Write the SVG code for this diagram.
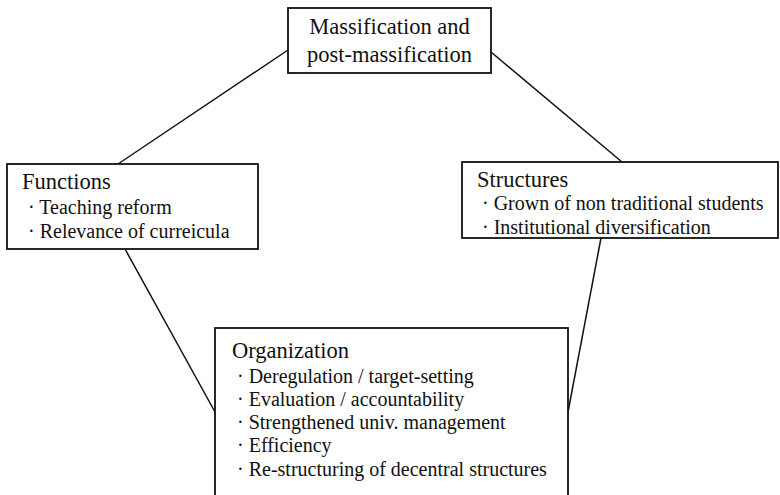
<svg xmlns="http://www.w3.org/2000/svg" width="780" height="495" viewBox="0 0 780 495">
<style>
.box{fill:#fff;stroke:#111;stroke-width:1.8}
.ln{stroke:#111;stroke-width:1.5;fill:none}
.t{font-family:"Liberation Serif","DejaVu Serif",serif;fill:#111}
.h{font-size:22.5px}
.b{font-size:20px}
</style>
<rect width="780" height="495" fill="#fff"/>
<g id="connectors">
<line class="ln" x1="288" y1="50" x2="118" y2="164"/>
<line class="ln" x1="491" y1="52" x2="622" y2="162"/>
<line class="ln" x1="125" y1="249" x2="215" y2="412"/>
<line class="ln" x1="601" y1="238" x2="568" y2="412"/>
</g>
<g id="massification">
<rect class="box" x="288" y="8" width="203" height="65"/>
<text class="t h" x="389.5" y="34" text-anchor="middle">Massification and</text>
<text class="t h" x="389.5" y="62" text-anchor="middle">post-massification</text>
</g>
<g id="functions">
<rect class="box" x="7" y="164" width="251" height="85"/>
<text class="t h" x="22" y="189">Functions</text>
<text class="t b" x="28" y="214">· Teaching reform</text>
<text class="t b" x="28" y="238">· Relevance of curreicula</text>
</g>
<g id="structures">
<rect class="box" x="462" y="162" width="316" height="76"/>
<text class="t h" x="477" y="187">Structures</text>
<text class="t b" x="482" y="210">· Grown of non traditional students</text>
<text class="t b" x="482" y="234">· Institutional diversification</text>
</g>
<g id="organization">
<rect class="box" x="215" y="328" width="353" height="180"/>
<text class="t h" x="232" y="358">Organization</text>
<text class="t b" x="237" y="383">· Deregulation / target-setting</text>
<text class="t b" x="237" y="406">· Evaluation / accountability</text>
<text class="t b" x="237" y="429">· Strengthened univ. management</text>
<text class="t b" x="237" y="452">· Efficiency</text>
<text class="t b" x="237" y="476">· Re-structuring of decentral structures</text>
</g>
</svg>
